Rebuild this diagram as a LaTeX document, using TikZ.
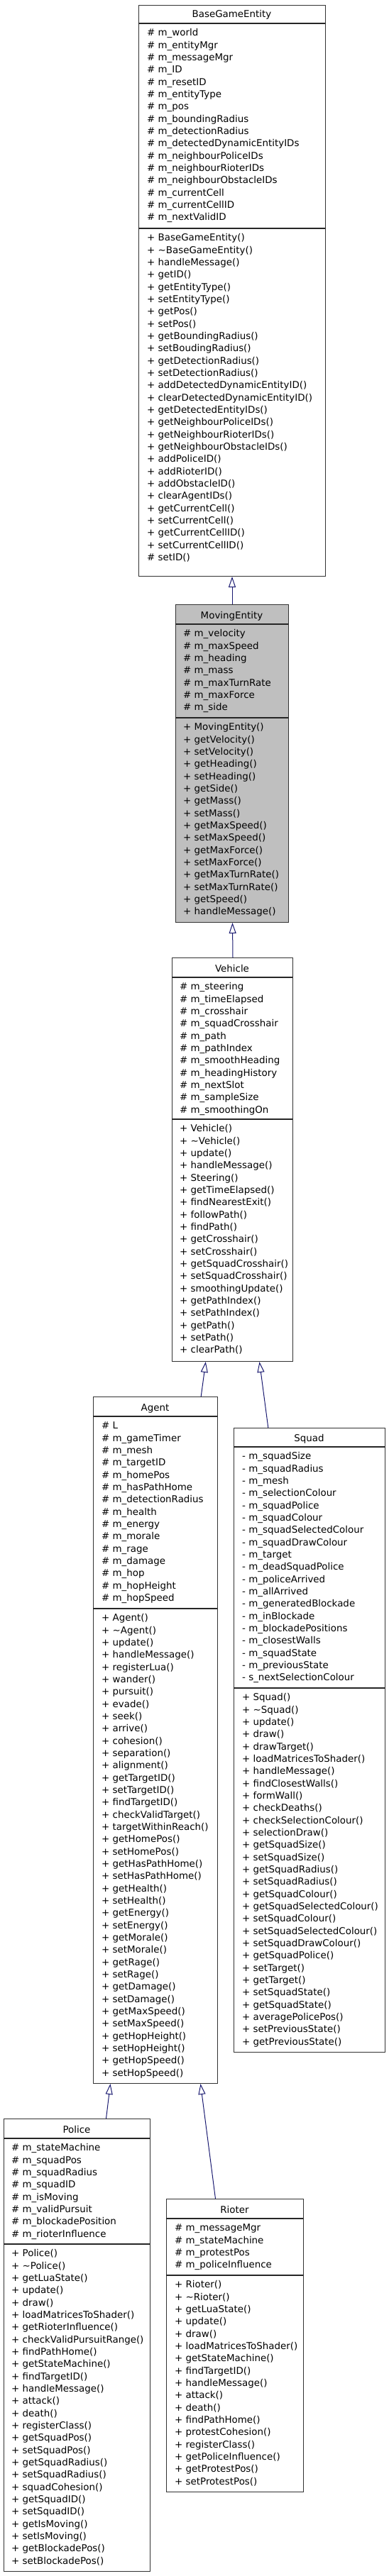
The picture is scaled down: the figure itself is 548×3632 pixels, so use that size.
\documentclass[tikz,border=0pt]{standalone}
\usepackage{fontspec}
\setmainfont{DejaVu Sans}
\usetikzlibrary{arrows.meta}
\definecolor{edgeblue}{RGB}{25,25,112}
\definecolor{boxgray}{RGB}{191,191,191}
\tikzset{
  umlbox/.style={draw=black!80, line width=1pt, fill=white, inner sep=0pt, anchor=north west},
  sepline/.style={draw=black!85, line width=1.1pt},
  classline/.style={font=\fontsize{13.4}{16}\selectfont, anchor=base west, inner sep=0pt},
  classtitle/.style={font=\fontsize{13.4}{16}\selectfont, anchor=base, inner sep=0pt},
  inherit/.style={draw=edgeblue, line width=1pt, -{Triangle[open, length=15pt, width=10pt]}},
}
% #1 prefix, #2 x, #3 first baseline, #4 list
\newcommand\classlines[4]{%
  \foreach \cltext [count=\i from 0] in {#4}
    \node[classline] (#1-\i) at (#2, {#3+17.33*\i}) {\cltext};
}
\begin{document}
\begin{tikzpicture}[x=1pt, y=-1pt]
\path[use as bounding box, fill=white] (0,0) rectangle (548,3632);

% ---------- BaseGameEntity ----------
\node[umlbox, minimum width=263pt, minimum height=805pt] (bge) at (195,7) {};
\draw[sepline] (195,33) -- (458,33);
\draw[sepline] (195,322) -- (458,322);
\node[classtitle] (bget) at (326.5,25) {BaseGameEntity};
\classlines{bgea}{207}{50.8}{\# m\_world, \# m\_entityMgr, \# m\_messageMgr, \# m\_ID, \# m\_resetID, \# m\_entityType, \# m\_pos, \# m\_boundingRadius, \# m\_detectionRadius, \# m\_detectedDynamicEntityIDs, \# m\_neighbourPoliceIDs, \# m\_neighbourRioterIDs, \# m\_neighbourObstacleIDs, \# m\_currentCell, \# m\_currentCellID, \# m\_nextValidID}
\classlines{bgem}{207}{339.8}{+ BaseGameEntity(), + \textasciitilde BaseGameEntity(), + handleMessage(), + getID(), + getEntityType(), + setEntityType(), + getPos(), + setPos(), + getBoundingRadius(), + setBoudingRadius(), + getDetectionRadius(), + setDetectionRadius(), + addDetectedDynamicEntityID(), + clearDetectedDynamicEntityID(), + getDetectedEntityIDs(), + getNeighbourPoliceIDs(), + getNeighbourRioterIDs(), + getNeighbourObstacleIDs(), + addPoliceID(), + addRioterID(), + addObstacleID(), + clearAgentIDs(), + getCurrentCell(), + setCurrentCell(), + getCurrentCellID(), + setCurrentCellID(), \# setID()}

% ---------- MovingEntity ----------
\node[umlbox, fill=boxgray, minimum width=159pt, minimum height=448pt] (me) at (247,852) {};
\draw[sepline] (247,880) -- (406,880);
\draw[sepline] (247,1012) -- (406,1012);
\node[classtitle] (met) at (326.5,872) {MovingEntity};
\classlines{mea}{258}{897.8}{\# m\_velocity, \# m\_maxSpeed, \# m\_heading, \# m\_mass, \# m\_maxTurnRate, \# m\_maxForce, \# m\_side}
\classlines{mem}{258}{1029.8}{+ MovingEntity(), + getVelocity(), + setVelocity(), + getHeading(), + setHeading(), + getSide(), + getMass(), + setMass(), + getMaxSpeed(), + setMaxSpeed(), + getMaxForce(), + setMaxForce(), + getMaxTurnRate(), + setMaxTurnRate(), + getSpeed(), + handleMessage()}

% ---------- Vehicle ----------
\node[umlbox, minimum width=170pt, minimum height=569pt] (veh) at (242,1350) {};
\draw[sepline] (242,1378) -- (412,1378);
\draw[sepline] (242,1578) -- (412,1578);
\node[classtitle] (veht) at (327,1370) {Vehicle};
\classlines{veha}{253}{1395.8}{\# m\_steering, \# m\_timeElapsed, \# m\_crosshair, \# m\_squadCrosshair, \# m\_path, \# m\_pathIndex, \# m\_smoothHeading, \# m\_headingHistory, \# m\_nextSlot, \# m\_sampleSize, \# m\_smoothingOn}
\classlines{vehm}{253}{1595.8}{+ Vehicle(), + \textasciitilde Vehicle(), + update(), + handleMessage(), + Steering(), + getTimeElapsed(), + findNearestExit(), + followPath(), + findPath(), + getCrosshair(), + setCrosshair(), + getSquadCrosshair(), + setSquadCrosshair(), + smoothingUpdate(), + getPathIndex(), + setPathIndex(), + getPath(), + setPath(), + clearPath()}

% ---------- Agent ----------
\node[umlbox, minimum width=175pt, minimum height=968pt] (agent) at (131,1969) {};
\draw[sepline] (131,1997) -- (306,1997);
\draw[sepline] (131,2268) -- (306,2268);
\node[classtitle] (agentt) at (218.5,1989) {Agent};
\classlines{agenta}{143}{2014.8}{\# L, \# m\_gameTimer, \# m\_mesh, \# m\_targetID, \# m\_homePos, \# m\_hasPathHome, \# m\_detectionRadius, \# m\_health, \# m\_energy, \# m\_morale, \# m\_rage, \# m\_damage, \# m\_hop, \# m\_hopHeight, \# m\_hopSpeed}
\classlines{agentm}{143}{2285.8}{+ Agent(), + \textasciitilde Agent(), + update(), + handleMessage(), + registerLua(), + wander(), + pursuit(), + evade(), + seek(), + arrive(), + cohesion(), + separation(), + alignment(), + getTargetID(), + setTargetID(), + findTargetID(), + checkValidTarget(), + targetWithinReach(), + getHomePos(), + setHomePos(), + getHasPathHome(), + setHasPathHome(), + getHealth(), + setHealth(), + getEnergy(), + setEnergy(), + getMorale(), + setMorale(), + getRage(), + setRage(), + getDamage(), + setDamage(), + getMaxSpeed(), + setMaxSpeed(), + getHopHeight(), + setHopHeight(), + getHopSpeed(), + setHopSpeed()}

% ---------- Squad ----------
\node[umlbox, minimum width=213pt, minimum height=880pt] (squad) at (329,2013) {};
\draw[sepline] (329,2040) -- (542,2040);
\draw[sepline] (329,2380) -- (542,2380);
\node[classtitle] (squadt) at (435.5,2032) {Squad};
\classlines{squada}{341}{2057.8}{- m\_squadSize, - m\_squadRadius, - m\_mesh, - m\_selectionColour, - m\_squadPolice, - m\_squadColour, - m\_squadSelectedColour, - m\_squadDrawColour, - m\_target, - m\_deadSquadPolice, - m\_policeArrived, - m\_allArrived, - m\_generatedBlockade, - m\_inBlockade, - m\_blockadePositions, - m\_closestWalls, - m\_squadState, - m\_previousState, - s\_nextSelectionColour}
\classlines{squadm}{341}{2397.8}{+ Squad(), + \textasciitilde Squad(), + update(), + draw(), + drawTarget(), + loadMatricesToShader(), + handleMessage(), + findClosestWalls(), + formWall(), + checkDeaths(), + checkSelectionColour(), + selectionDraw(), + getSquadSize(), + setSquadSize(), + getSquadRadius(), + setSquadRadius(), + getSquadColour(), + getSquadSelectedColour(), + setSquadColour(), + setSquadSelectedColour(), + setSquadDrawColour(), + getSquadPolice(), + setTarget(), + getTarget(), + setSquadState(), + getSquadState(), + averagePolicePos(), + setPreviousState(), + getPreviousState()}

% ---------- Police ----------
\node[umlbox, minimum width=206pt, minimum height=638pt] (police) at (5,2987) {};
\draw[sepline] (5,3015) -- (211,3015);
\draw[sepline] (5,3164) -- (211,3164);
\node[classtitle] (policet) at (108,3007) {Police};
\classlines{policea}{16}{3032.8}{\# m\_stateMachine, \# m\_squadPos, \# m\_squadRadius, \# m\_squadID, \# m\_isMoving, \# m\_validPursuit, \# m\_blockadePosition, \# m\_rioterInfluence}
\classlines{policem}{16}{3181.8}{+ Police(), + \textasciitilde Police(), + getLuaState(), + update(), + draw(), + loadMatricesToShader(), + getRioterInfluence(), + checkValidPursuitRange(), + findPathHome(), + getStateMachine(), + findTargetID(), + handleMessage(), + attack(), + death(), + registerClass(), + getSquadPos(), + setSquadPos(), + getSquadRadius(), + setSquadRadius(), + squadCohesion(), + getSquadID(), + setSquadID(), + getIsMoving(), + setIsMoving(), + getBlockadePos(), + setBlockadePos()}

% ---------- Rioter ----------
\node[umlbox, minimum width=193pt, minimum height=413pt] (rioter) at (234,3100) {};
\draw[sepline] (234,3128) -- (427,3128);
\draw[sepline] (234,3208) -- (427,3208);
\node[classtitle] (riotert) at (330.5,3120) {Rioter};
\classlines{riotera}{246}{3145.8}{\# m\_messageMgr, \# m\_stateMachine, \# m\_protestPos, \# m\_policeInfluence}
\classlines{rioterm}{246}{3225.8}{+ Rioter(), + \textasciitilde Rioter(), + getLuaState(), + update(), + draw(), + loadMatricesToShader(), + getStateMachine(), + findTargetID(), + handleMessage(), + attack(), + death(), + findPathHome(), + protestCohesion(), + registerClass(), + getPoliceInfluence(), + getProtestPos(), + setProtestPos()}

% ---------- Inheritance connectors ----------
\draw[inherit] (me.north) -- (bge.south);
\draw[inherit] ([xshift=0.5pt]veh.north) -- ([xshift=0.5pt]me.south);
\draw[inherit] ([xshift=64.2pt]agent.north) -- ([xshift=-37.7pt]veh.south);
\draw[inherit] ([xshift=-58.2pt]squad.north) -- ([xshift=38pt]veh.south);
\draw[inherit] ([xshift=41pt]police.north) -- ([xshift=-63.5pt]agent.south);
\draw[inherit] ([xshift=-27.5pt]rioter.north) -- ([xshift=63.5pt]agent.south);
\end{tikzpicture}
\end{document}
